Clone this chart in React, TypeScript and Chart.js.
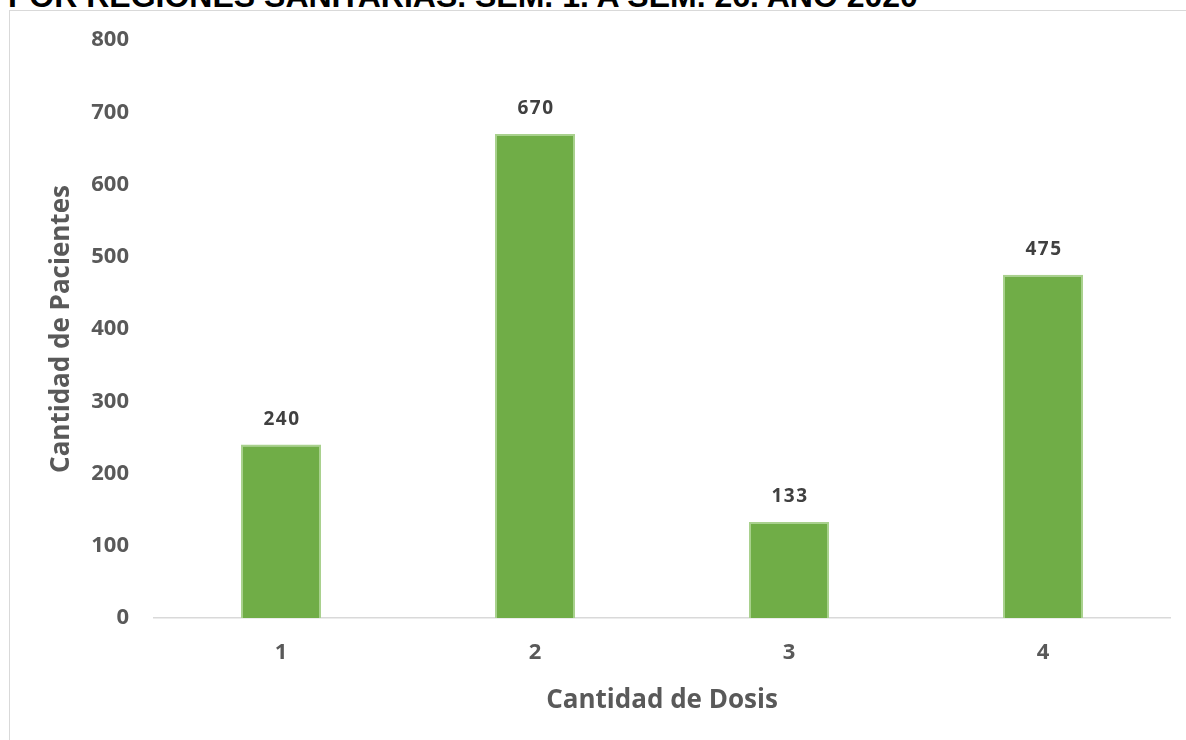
import React, { useEffect, useRef } from "react";
import { Chart, registerables } from "chart.js";

Chart.register(...registerables);

const categories = ["1", "2", "3", "4"];
const patients = [240, 670, 133, 475];
const yTicks = [0, 100, 200, 300, 400, 500, 600, 700, 800];
const titleText = "POR REGIONES SANITARIAS. SEM. 1. A SEM. 26. AÑO 2020";
const xTitle = "Cantidad de Dosis";
const yTitle = "Cantidad de Pacientes";

const labelPlugin = {
  id: "barLabels",
  afterDatasetsDraw(chart: any) {
    const ctx = chart.ctx;
    const meta = chart.getDatasetMeta(0);
    ctx.save();
    ctx.font = "bold 19px 'Open Sans'";
    try { (ctx as any).letterSpacing = "1.5px"; } catch (e) {}
    ctx.fillStyle = "#404040";
    ctx.textAlign = "center";
    ctx.textBaseline = "middle";
    meta.data.forEach((bar: any, i: number) => {
      const v = chart.data.datasets[0].data[i];
      ctx.fillText(String(v), bar.x + 1, bar.y - 25);
    });
    ctx.restore();
  },
};

export default function App() {
  const ref = useRef<HTMLCanvasElement | null>(null);
  useEffect(() => {
    if (!ref.current) return;
    const chart = new Chart(ref.current, {
      type: "bar",
      data: {
        labels: categories,
        datasets: [
          {
            data: patients,
            backgroundColor: "#70AD47",
            borderColor: "#A9D18E",
            borderWidth: 2,
            categoryPercentage: 1,
            barPercentage: 0.315,
          },
        ],
      },
      options: {
        animation: false,
        responsive: false,
        devicePixelRatio: 1,
        layout: { padding: { left: 8, right: 16, top: 40, bottom: 0 } },
        plugins: { legend: { display: false }, tooltip: { enabled: false } },
        scales: {
          x: {
            grid: { display: false, drawTicks: false },
            border: { display: true, color: "#D9D9D9", width: 1.5 },
            ticks: {
              color: "#595959",
              font: { family: "'Open Sans'", size: 22, weight: "bold" },
              padding: 22,
            },
            title: {
              display: true,
              text: xTitle,
              color: "#595959",
              font: { family: "'Open Sans'", size: 26, weight: "bold" },
              padding: { top: 0, bottom: 24 },
            },
            afterFit(scale: any) {
              scale.height = 122;
            },
          },
          y: {
            min: 0,
            max: 800,
            afterBuildTicks(scale: any) {
              scale.ticks = yTicks.map((v) => ({ value: v }));
            },
            grid: { display: false, drawTicks: false },
            border: { display: false },
            ticks: {
              color: "#595959",
              font: { family: "'Open Sans'", size: 22, weight: "bold" },
              padding: 25,
            },
            title: {
              display: true,
              text: yTitle,
              color: "#595959",
              font: { family: "'Open Sans'", size: 26, weight: "bold" },
              padding: { top: 38, bottom: 0 },
            },
            afterFit(scale: any) {
              scale.width = 146;
            },
          },
        },
      },
      plugins: [labelPlugin],
    });
    return () => chart.destroy();
  }, []);

  return (
    <div
      style={{
        position: "fixed",
        left: 0,
        top: 0,
        width: 1186,
        height: 740,
        overflow: "hidden",
        background: "#fff",
      }}
    >
      <div
        style={{
          position: "absolute",
          left: 9,
          top: 10,
          width: 1300,
          height: 900,
          border: "1px solid #D9D9D9",
        }}
      />
      <div
        style={{
          position: "absolute",
          left: 8,
          top: -21,
          whiteSpace: "nowrap",
          fontFamily: "'Liberation Sans', Arial, sans-serif",
          fontWeight: "bold",
          fontSize: 32,
          lineHeight: "34px",
          color: "#000",
        }}
      >
        {titleText}
      </div>
      <canvas
        ref={ref}
        width={1186}
        height={740}
        style={{ position: "absolute", left: 0, top: 0 }}
      />
    </div>
  );
}
